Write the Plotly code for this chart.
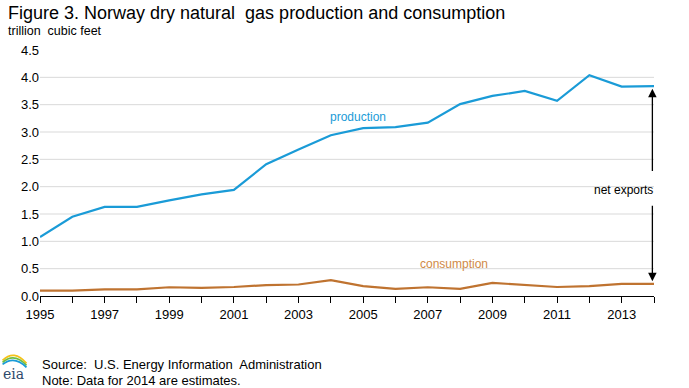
import plotly.graph_objects as go

years = list(range(1995, 2015))
production = [1.08, 1.45, 1.63, 1.63, 1.75, 1.86, 1.94, 2.41, 2.68, 2.94,
              3.07, 3.09, 3.17, 3.51, 3.66, 3.75, 3.57, 4.04, 3.83, 3.84]
consumption = [0.10, 0.10, 0.12, 0.12, 0.16, 0.15, 0.165, 0.20, 0.21, 0.29,
               0.18, 0.13, 0.16, 0.13, 0.24, 0.20, 0.165, 0.18, 0.22, 0.22]
y_ticks = [0.0, 0.5, 1.0, 1.5, 2.0, 2.5, 3.0, 3.5, 4.0, 4.5]
x_tick_text = [str(y) if (y - 1995) % 2 == 0 else "" for y in years]

BLUE = "#1a9bd7"
BROWN = "#bf7330"
FONT = "Liberation Sans Narrow, Arial Narrow, Liberation Sans, Arial"

fig = go.Figure()
fig.add_trace(go.Scatter(x=years, y=production, mode="lines",
                         line=dict(color=BLUE, width=2.2), name="production"))
fig.add_trace(go.Scatter(x=years, y=consumption, mode="lines",
                         line=dict(color=BROWN, width=2.2), name="consumption"))

shapes = []
for v in y_ticks[1:-1]:
    shapes.append(dict(type="line", xref="x", yref="y", x0=years[0], x1=years[-1],
                       y0=v, y1=v, line=dict(color="#d9d9d9", width=1), layer="below"))

annotations = [
    dict(text="Figure 3. Norway dry natural  gas production and consumption", xref="paper", yref="paper",
         x=-0.055, y=1.150, xanchor="left", yanchor="middle", showarrow=False,
         font=dict(family="Liberation Sans, Arial", size=18, color="#000")),
    dict(text="trillion  cubic feet", xref="paper", yref="paper", x=-0.055, y=1.077,
         xanchor="left", yanchor="middle", showarrow=False,
         font=dict(family="Liberation Sans, Arial", size=12.5, color="#000")),
    dict(text="production", xref="x", yref="y", x=2004.85, y=3.27, showarrow=False,
         font=dict(family="Liberation Sans, Arial", size=12, color=BLUE)),
    dict(text="consumption", xref="x", yref="y", x=2007.8, y=0.58, showarrow=False,
         font=dict(family="Liberation Sans, Arial", size=12, color="#d08a46")),
    dict(text="net exports", xref="paper", yref="paper", x=1.0016, y=1.94 / 4.5, showarrow=False,
         font=dict(family="Liberation Sans, Arial", size=12, color="#000")),
    dict(x=2013.95, y=production[-1] - 0.05, ax=2013.95, ay=2.26, xref="x", yref="y",
         axref="x", ayref="y", text="", showarrow=True, arrowhead=2, arrowsize=1.3,
         arrowwidth=1.3, arrowcolor="#000"),
    dict(x=2013.95, y=consumption[-1] + 0.05, ax=2013.95, ay=1.68, xref="x", yref="y",
         axref="x", ayref="y", text="", showarrow=True, arrowhead=2, arrowsize=1.3,
         arrowwidth=1.3, arrowcolor="#000"),
    dict(text="Source:  U.S. Energy Information  Administration", xref="paper", yref="paper",
         x=0.0, y=-0.28, xanchor="left", yanchor="middle", showarrow=False,
         font=dict(family=FONT, size=13, color="#000")),
    dict(text="Note: Data for 2014 are estimates.", xref="paper", yref="paper",
         x=0.0, y=-0.342, xanchor="left", yanchor="middle", showarrow=False,
         font=dict(family=FONT, size=13, color="#000")),
    dict(text="eia", xref="paper", yref="paper", x=-0.064, y=-0.318, xanchor="left",
         yanchor="middle", showarrow=False,
         font=dict(family="DejaVu Serif, Liberation Serif", size=14, color="#2f4a6b")),
]

# eia logo arcs
def arc(color, y0, ym):
    return dict(type="path", xref="paper", yref="paper",
                path=f"M -0.061 {y0} Q -0.042 {ym} -0.022 {y0 - 0.012}",
                line=dict(color=color, width=1.8))
shapes += [arc("#f3c21a", -0.262, -0.215), arc("#6cbd45", -0.270, -0.228), arc("#1a9bd7", -0.278, -0.240)]

fig.update_layout(
    width=689, height=388,
    margin=dict(l=40, r=35, t=50, b=92),
    paper_bgcolor="white", plot_bgcolor="white",
    showlegend=False,
    shapes=shapes, annotations=annotations,
    xaxis=dict(range=[1995, 2014], tickvals=years, ticktext=x_tick_text,
               showgrid=False, zeroline=False, showline=True, linecolor="#000", linewidth=1,
               ticks="outside", ticklen=6, tickcolor="#000", tickwidth=1,
               tickfont=dict(family=FONT, size=13, color="#000")),
    yaxis=dict(range=[0, 4.5], tickvals=y_ticks, tickformat=".1f",
               showgrid=False, zeroline=False, showline=False, ticks="",
               tickfont=dict(family=FONT, size=13, color="#000")),
)

fig.write_html("out.html", config={"displayModeBar": False},
               post_script="document.body.style.margin='0';document.body.style.overflow='hidden';")
